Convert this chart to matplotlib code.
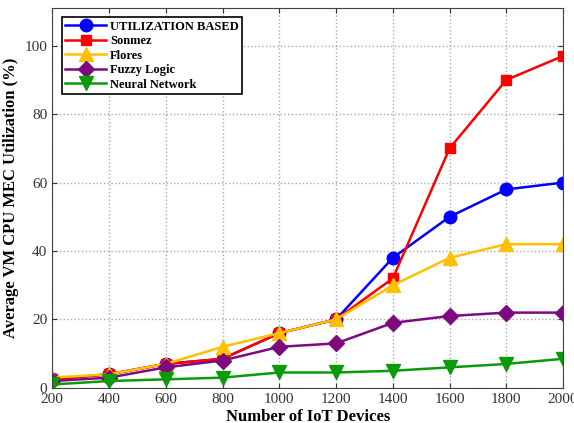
import matplotlib
matplotlib.use('Agg')
import matplotlib.pyplot as plt
import numpy as np

plt.rcParams['font.family'] = ['Liberation Serif', 'DejaVu Serif']

devices = [200, 400, 600, 800, 1000, 1200, 1400, 1600, 1800, 2000]
utilization = [2.5, 4, 7, 8.5, 16, 20, 38, 50, 58, 60]
sonmez = [2.5, 4, 7, 8.5, 16, 20, 32, 70, 90, 97]
flores = [3, 4, 7, 12, 16, 20, 30, 38, 42, 42]
fuzzy = [2, 3, 6, 8, 12, 13, 19, 21, 22, 22]
neural = [1, 2, 2.5, 3, 4.5, 4.5, 5, 6, 7, 8.5]

fig = plt.figure(figsize=(5.74, 4.23), dpi=100)
ax = fig.add_axes([0.091, 0.083, 0.89, 0.898])

ax.plot(devices, utilization, color='#0000ff', marker='o', markersize=9, lw=1.8, label='UTILIZATION BASED')
ax.plot(devices, sonmez, color='#ff0000', marker='s', markersize=7, lw=1.8, label='Sonmez')
ax.plot(devices, flores, color='#ffc000', marker='^', markersize=10, lw=1.8, label='Flores')
ax.plot(devices, fuzzy, color='#7e0a80', marker='D', markersize=8, lw=1.8, label='Fuzzy Logic')
ax.plot(devices, neural, color='#0a9a0a', marker='v', markersize=10, lw=1.8, label='Neural Network')

ax.set_xlim(200, 2000)
ax.set_ylim(0, 111)
ax.set_xticks(devices)
ax.set_yticks([0, 20, 40, 60, 80, 100])
ax.grid(True, linestyle=':', color='#aaaaaa', linewidth=1)
ax.tick_params(direction='in', top=True, right=True, labelsize=11, colors='#333333')
for s in ax.spines.values():
    s.set_color('#444444')

ax.set_xlabel('Number of IoT Devices', fontsize=12, fontweight='bold', labelpad=2)
ax.set_ylabel('Average VM CPU MEC Utilization (%)', fontsize=12, fontweight='bold', labelpad=4)

leg = ax.legend(loc='upper left', bbox_to_anchor=(0.012, 0.985), fancybox=False,
                edgecolor='black', framealpha=1, prop={'weight': 'bold', 'size': 9},
                handlelength=3.3, borderpad=0.25, labelspacing=0.2, handletextpad=0.3,
                borderaxespad=0.3)
leg.get_frame().set_linewidth(1.2)

fig.savefig('out.png', dpi=100)
